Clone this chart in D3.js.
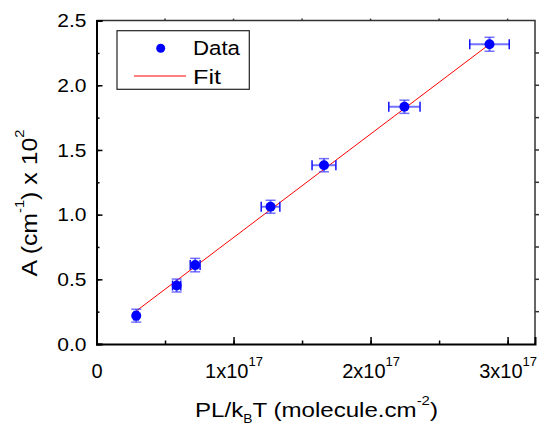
<!DOCTYPE html>
<html>
<head>
<meta charset="utf-8">
<script src="https://cdn.jsdelivr.net/npm/d3@7"></script>
<style>
	body { margin: 0; background: #fff; }
	text { font-family: "Liberation Sans", Arial, sans-serif; fill: #000; }
</style>
</head>
<body>
<svg id="chart" width="539" height="425"></svg>
<script>
// data, x in units of 1e17 molecule.cm^-2
const pressureX = [0.29, 0.585, 0.72, 1.27, 1.66, 2.247, 2.868];
const absorbY   = [0.219, 0.452, 0.61, 1.061, 1.382, 1.834, 2.317];
const xErr      = [0.015, 0.03, 0.036, 0.068, 0.087, 0.114, 0.144];
const yErr      = [0.05, 0.05, 0.052, 0.05, 0.051, 0.051, 0.054];
const fitCoef   = [0.023, 0.8]; // intercept, slope
const xTicks    = [0, 1, 2, 3];
const yTicks    = [0, 0.5, 1.0, 1.5, 2.0, 2.5];

const margin = {left: 96.5, right: 4, top: 20.6, bottom: 81};
const W = 539, H = 425;

const svg = d3.select('#chart');

const x = d3.scaleLinear().domain([0, 3.2]).range([margin.left, W - margin.right]);
const y = d3.scaleLinear().domain([0, 2.5]).range([H - margin.bottom, margin.top]);

// stretch a text horizontally so its width matches the target
function fitWidth(sel, target) {
	const w = sel.node().getBBox().width;
	return target / w;
}

const gAxes = svg.append('g').attr('class', 'g_axes');

// frame: top + right
gAxes.append('path')
	.attr('d', 'M' + x(0) + ',' + y(2.5) + 'H' + x(3.2) + 'V' + y(0))
	.attr('fill', 'none')
	.attr('stroke', '#333')
	.attr('stroke-width', 1.5);

// top / right ticks (outward)
const xMinor = d3.range(0, 3.21, 0.5);
const yMinor = d3.range(0, 2.51, 0.25);
gAxes.selectAll('.top_tick').data(xMinor.filter(d => d > 0 && d < 3.2)).enter()
	.append('line')
	.attr('x1', d => x(d)).attr('x2', d => x(d))
	.attr('y1', y(2.5)).attr('y2', y(2.5) - 2)
	.attr('stroke', '#333').attr('stroke-width', 1.5);
gAxes.selectAll('.right_tick').data(yMinor.filter(d => d > 0 && d < 2.5)).enter()
	.append('line')
	.attr('x1', x(3.2)).attr('x2', x(3.2) + 4)
	.attr('y1', d => y(d)).attr('y2', d => y(d))
	.attr('stroke', '#333').attr('stroke-width', 1.5);

// left axis
gAxes.append('g')
	.attr('transform', 'translate(' + x(0) + ',0)')
	.call(d3.axisLeft(y).tickValues(yMinor).tickSize(-3).tickFormat(''))
	.call(g => g.select('.domain').remove())
	.call(g => g.selectAll('line').attr('stroke-width', 1.5));
const yAx = gAxes.append('g')
	.attr('transform', 'translate(' + x(0) + ',0)')
	.call(d3.axisLeft(y).tickValues(yTicks).tickSize(-6).tickFormat(d3.format('.1f')));
yAx.select('.domain').attr('stroke-width', 2);
yAx.selectAll('line').attr('stroke-width', 1.5);
const yStretch = 1.2;
yAx.selectAll('text')
	.attr('font-size', 17.5)
	.attr('dy', '0.35em')
	.attr('x', -10 / yStretch)
	.attr('transform', 'scale(' + yStretch + ',1)')
	.style('font-family', '"Liberation Sans", Arial, sans-serif');

// bottom axis
gAxes.append('g')
	.attr('transform', 'translate(0,' + y(0) + ')')
	.call(d3.axisBottom(x).tickValues(xMinor).tickSize(-3.5).tickFormat(''))
	.call(g => g.select('.domain').remove())
	.call(g => g.selectAll('line').attr('stroke-width', 1.5));
const xAx = gAxes.append('g')
	.attr('transform', 'translate(0,' + y(0) + ')')
	.call(d3.axisBottom(x).tickValues(xTicks).tickSize(-7).tickFormat(''));
xAx.select('.domain').attr('stroke-width', 2);
xAx.selectAll('line').attr('stroke-width', 1.5);
xAx.selectAll('.tick').each(function(d) {
	const t = d3.select(this).select('text')
		.attr('font-size', 20)
		.attr('y', 33.5)
		.attr('dy', 0)
		.style('font-family', '"Liberation Sans", Arial, sans-serif');
	if (d === 0) {
		t.text('0');
	} else {
		t.append('tspan').text(d + 'x10');
		t.append('tspan').attr('font-size', 13).attr('dy', -12).text('17');
	}
});

// axis titles
const xTitle = svg.append('text')
	.attr('text-anchor', 'middle')
	.attr('font-size', 21);
xTitle.append('tspan').text('PL/k');
xTitle.append('tspan').attr('font-size', 12).attr('dy', 6).text('B');
xTitle.append('tspan').attr('dy', -6).text('T (molecule.cm');
xTitle.append('tspan').attr('font-size', 13).attr('dy', -12).text('-2');
xTitle.append('tspan').attr('dy', 12).text(')');
xTitle.attr('transform', 'translate(316.5,416.5) scale(' + fitWidth(xTitle, 243) + ',1)');

const yTitle = svg.append('text')
	.attr('text-anchor', 'middle')
	.attr('font-size', 22);
yTitle.append('tspan').text('A (cm');
yTitle.append('tspan').attr('font-size', 13).attr('dy', -13).text('-1');
yTitle.append('tspan').attr('dy', 13).text(') x 10');
yTitle.append('tspan').attr('font-size', 13).attr('dy', -13).text('2');
yTitle.attr('transform', 'translate(37,203) rotate(-90) scale(' + fitWidth(yTitle, 147) + ',1)');

// fit line
const fitLine = d3.line()
	.x(d => x(d))
	.y(d => y(fitCoef[0] + fitCoef[1] * d));
svg.append('path')
	.datum(d3.extent(pressureX))
	.attr('d', fitLine)
	.attr('fill', 'none')
	.attr('stroke', '#ff0000')
	.attr('stroke-width', 1);

// data points with error bars
const pts = pressureX.map((px, i) => ({x: px, y: absorbY[i], ex: xErr[i], ey: yErr[i]}));
const gPts = svg.selectAll('.g_pt').data(pts).enter().append('g').attr('class', 'g_pt');
const errColor = 'rgba(40,40,255,0.65)';
gPts.append('line')
	.attr('x1', d => x(d.x - d.ex)).attr('x2', d => x(d.x + d.ex))
	.attr('y1', d => y(d.y)).attr('y2', d => y(d.y))
	.attr('stroke', errColor).attr('stroke-width', 2);
gPts.append('line')
	.attr('x1', d => x(d.x)).attr('x2', d => x(d.x))
	.attr('y1', d => y(d.y - d.ey)).attr('y2', d => y(d.y + d.ey))
	.attr('stroke', errColor).attr('stroke-width', 2);
// caps
gPts.each(function(d) {
	const g = d3.select(this);
	[d.y - d.ey, d.y + d.ey].forEach(v => {
		g.append('line')
			.attr('x1', x(d.x) - 5).attr('x2', x(d.x) + 5)
			.attr('y1', y(v)).attr('y2', y(v))
			.attr('stroke', errColor).attr('stroke-width', 1.5);
	});
	[d.x - d.ex, d.x + d.ex].forEach(v => {
		g.append('line')
			.attr('x1', x(v)).attr('x2', x(v))
			.attr('y1', y(d.y) - 5).attr('y2', y(d.y) + 5)
			.attr('stroke', '#1010ff').attr('stroke-width', 1.5);
	});
});
gPts.append('circle')
	.attr('cx', d => x(d.x))
	.attr('cy', d => y(d.y))
	.attr('r', 5)
	.attr('fill', '#0000ff');

// legend
const gLeg = svg.append('g').attr('class', 'g_legend');
gLeg.append('rect')
	.attr('x', 117).attr('y', 30.7)
	.attr('width', 132.3).attr('height', 58.6)
	.attr('fill', '#fff').attr('stroke', '#222').attr('stroke-width', 1.2);
gLeg.append('circle').attr('cx', 160.7).attr('cy', 48.3).attr('r', 4.5).attr('fill', '#0000ff');
gLeg.append('line').attr('x1', 134).attr('x2', 186).attr('y1', 76).attr('y2', 76)
	.attr('stroke', '#ff0000').attr('stroke-width', 1);
gLeg.append('text').attr('x', 193).attr('y', 55).attr('font-size', 20.5)
	.attr('textLength', 47).attr('lengthAdjust', 'spacingAndGlyphs').text('Data');
gLeg.append('text').attr('x', 193).attr('y', 84.3).attr('font-size', 20.5)
	.attr('textLength', 28).attr('lengthAdjust', 'spacingAndGlyphs').text('Fit');
</script>
</body>
</html>
